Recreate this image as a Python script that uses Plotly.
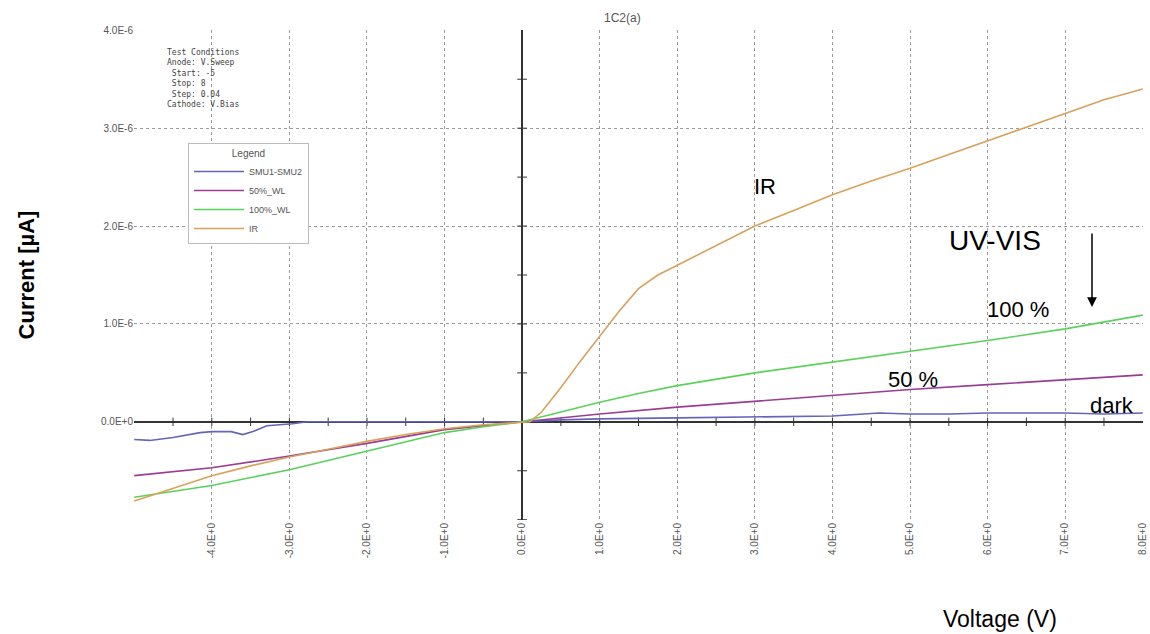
import plotly.graph_objects as go

# ---- data (current in µA, voltage in V) ----
v_dark = [-5, -4.8, -4.5, -4.15, -4.0, -3.75, -3.6, -3.47, -3.29, -2.96, -2.77, -2, -1, 0, 0.5, 1, 2, 3, 4, 4.6, 5, 5.5, 6, 7, 7.5, 8]
i_dark = [-0.18, -0.19, -0.16, -0.11, -0.10, -0.10, -0.13, -0.10, -0.04, -0.02, 0.0, 0.0, 0.0, 0.0, 0.02, 0.03, 0.04, 0.05, 0.06, 0.09, 0.08, 0.08, 0.09, 0.09, 0.08, 0.09]

v_50 = [-5, -4, -3, -2, -1, 0, 1, 2, 3, 4, 5, 6, 7, 8]
i_50 = [-0.55, -0.47, -0.35, -0.22, -0.08, 0.0, 0.08, 0.15, 0.21, 0.27, 0.33, 0.38, 0.43, 0.48]

v_100 = [-5, -4, -3, -2, -1, -0.5, 0, 0.5, 1, 1.5, 2, 3, 4, 5, 6, 7, 8]
i_100 = [-0.77, -0.65, -0.49, -0.30, -0.11, -0.05, 0.0, 0.10, 0.20, 0.29, 0.37, 0.50, 0.61, 0.72, 0.83, 0.95, 1.09]

v_ir = [-5, -4.5, -4, -3.5, -3, -2.5, -2, -1.5, -1, -0.5, 0, 0.1, 0.25, 0.5, 0.75, 1, 1.25, 1.5, 1.75, 2, 2.5, 3, 3.5, 4, 4.5, 5, 5.5, 6, 6.5, 7, 7.5, 8]
i_ir = [-0.81, -0.68, -0.55, -0.45, -0.36, -0.28, -0.20, -0.13, -0.07, -0.03, 0.0, 0.0, 0.10, 0.35, 0.62, 0.88, 1.13, 1.36, 1.50, 1.60, 1.80, 2.00, 2.16, 2.32, 2.46, 2.59, 2.73, 2.87, 3.01, 3.15, 3.29, 3.40]

series_names = ["SMU1-SMU2", "50%_WL", "100%_WL", "IR"]
series_colors = ["#6464B8", "#9A3C96", "#5AD25A", "#D9A15A"]

x_tickvals = [-5, -4, -3, -2, -1, 0, 1, 2, 3, 4, 5, 6, 7, 8]
x_ticktext = ["", "-4.0E+0", "-3.0E+0", "-2.0E+0", "-1.0E+0", "0.0E+0", "1.0E+0", "2.0E+0",
              "3.0E+0", "4.0E+0", "5.0E+0", "6.0E+0", "7.0E+0", "8.0E+0"]
y_tickvals = [-1e-6, 0, 1e-6, 2e-6, 3e-6, 4e-6]
y_ticktext = ["", "0.0E+0", "1.0E-6", "2.0E-6", "3.0E-6", "4.0E-6"]

# small tick marks on the zero axes
x_minor = [-4.5, -4, -3.5, -3, -2.5, -2, -1.5, -1, -0.5, 0.5, 1, 1.5, 2, 2.5, 3, 3.5, 4, 4.5, 5, 5.5, 6, 6.5, 7, 7.5]
y_minor = [-1.0, -0.5, 0.5, 1.0, 1.5, 2.0, 2.5, 3.0, 3.5]

test_conditions = ["Test Conditions", "Anode: V.Sweep", " Start: -5", " Stop: 8", " Step: 0.04", "Cathode: V.Bias"]

UA = 1e-6

fig = go.Figure()

fig.add_trace(go.Scatter(x=x_minor, y=[0] * len(x_minor), mode="markers",
                         marker=dict(symbol="line-ns", size=6, line=dict(color="#333", width=1)),
                         showlegend=False, hoverinfo="skip"))
fig.add_trace(go.Scatter(x=[0] * len(y_minor), y=[v * UA for v in y_minor], mode="markers",
                         marker=dict(symbol="line-ew", size=7, line=dict(color="#333", width=1)),
                         showlegend=False, hoverinfo="skip"))

for name, color, xs, ys in zip(series_names, series_colors,
                               [v_dark, v_50, v_100, v_ir], [i_dark, i_50, i_100, i_ir]):
    fig.add_trace(go.Scatter(x=xs, y=[v * UA for v in ys], mode="lines", name=name,
                             line=dict(color=color, width=1.6)))

ann_font = dict(family="Liberation Sans, Arial, sans-serif", color="black")
annotations = [
    dict(x=622, y=18, text="1C2(a)", font=dict(family="Liberation Sans, Arial", size=12, color="#555")),
    dict(x=765, y=186, text="IR", font=dict(size=22, **ann_font)),
    dict(x=995, y=241, text="UV-VIS", font=dict(size=28, **ann_font)),
    dict(x=1018, y=309, text="100 %", font=dict(size=22, **ann_font)),
    dict(x=913, y=379, text="50 %", font=dict(size=22, **ann_font)),
    dict(x=1112, y=405, text="dark", font=dict(size=22, **ann_font)),
    dict(x=1000, y=619, text="Voltage (V)", font=dict(size=23, **ann_font)),
]
layout_ann = []
for a in annotations:
    layout_ann.append(dict(xref="paper", yref="paper", x=(a["x"] - 134) / 1009, y=(520 - a["y"]) / 490,
                           text=a["text"], showarrow=False, font=a["font"],
                           xanchor="center", yanchor="middle"))
# test conditions block
layout_ann.append(dict(xref="paper", yref="paper", x=(165 - 134) / 1009, y=(520 - 46) / 490,
                       text="<br>".join(t.replace(" ", "&nbsp;") for t in test_conditions),
                       showarrow=False, align="left", xanchor="left", yanchor="top",
                       font=dict(family="DejaVu Sans Mono, monospace", size=8, color="#444")))
# arrow below UV-VIS
layout_ann.append(dict(xref="paper", yref="paper", x=(1092 - 134) / 1009, y=(520 - 307) / 490,
                       ax=0, ay=-75, axref="pixel", ayref="pixel",
                       text="", showarrow=True, arrowhead=2, arrowsize=1.3, arrowwidth=1.5,
                       arrowcolor="black"))

fig.update_layout(
    width=1150, height=634,
    margin=dict(l=134, r=7, t=30, b=114, autoexpand=False),
    plot_bgcolor="white", paper_bgcolor="white",
    font=dict(family="Liberation Sans, Arial, sans-serif", size=10, color="#444"),
    annotations=layout_ann,
    legend=dict(x=(188 - 134) / 1009, y=(520 - 143) / 490, xanchor="left", yanchor="top",
                bgcolor="white", bordercolor="#BBBBBB", borderwidth=1,
                title=dict(text="Legend", side="top center", font=dict(size=10, color="#555")),
                font=dict(size=9, color="#555"), itemwidth=50, tracegroupgap=0),
    xaxis=dict(range=[-5.003, 8.003], tickvals=x_tickvals, ticktext=x_ticktext, tickangle=-90,
               showgrid=True, gridcolor="#9a9a9a", griddash="dot", gridwidth=1,
               zeroline=True, zerolinecolor="#333", zerolinewidth=2, automargin=False,
               showline=False, ticks="", tickfont=dict(size=10, color="#555")),
    yaxis=dict(range=[-1.003e-6, 4.003e-6], tickvals=y_tickvals, ticktext=y_ticktext,
               showgrid=True, gridcolor="#9a9a9a", griddash="dot", gridwidth=1,
               zeroline=True, zerolinecolor="#333", zerolinewidth=2, automargin=False,
               showline=False, ticks="", tickfont=dict(size=10, color="#555"),
               title=dict(text="<b>Current [µA]</b>", standoff=60,
                          font=dict(family="Liberation Sans, Arial, sans-serif", size=22, color="black"))),
)

fig.write_html("out.html", config={"displayModeBar": False},
               post_script="document.body.style.margin='0';")
